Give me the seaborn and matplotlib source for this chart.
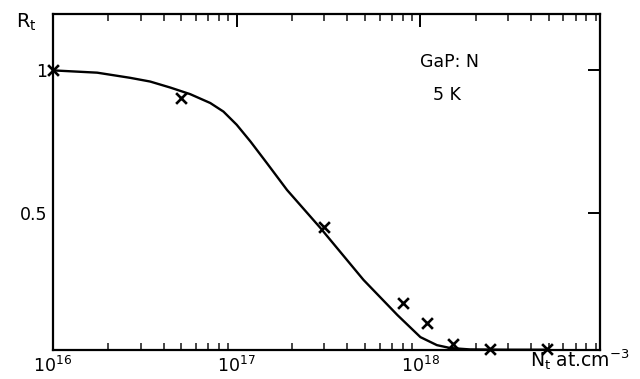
import numpy as np
import pandas as pd
import matplotlib
matplotlib.use("Agg")
import matplotlib.pyplot as plt
import matplotlib.ticker as mticker
import seaborn as sns

# Data
curve_n = [1.0e16, 1.74e16, 2.63e16, 3.38e16, 4.35e16, 5.58e16, 7.18e16,
           8.47e16, 1.0e17, 1.19e17, 1.46e17, 1.88e17, 2.85e17, 4.90e17,
           7.50e17, 1.0e18, 1.23e18, 1.45e18, 1.86e18, 3.0e18, 5.0e18]
curve_r = [0.998, 0.99, 0.972, 0.959, 0.938, 0.915, 0.884,
           0.854, 0.808, 0.749, 0.674, 0.580, 0.448, 0.266,
           0.143, 0.066, 0.038, 0.028, 0.023, 0.022, 0.022]
meas_n = [1.0e16, 5.0e16, 3.0e17, 8.0e17, 1.08e18, 1.5e18, 2.4e18, 4.9e18]
meas_r = [1.0, 0.90, 0.45, 0.185, 0.115, 0.042, 0.025, 0.025]
ytick_vals = [0.5, 1.0]
ytick_labels = ["0.5", "1"]

sns.set_style("white")
plt.rcParams['font.family'] = ['DejaVu Sans']
plt.rcParams['text.color'] = 'black'

fig = plt.figure(figsize=(6.4, 3.79), dpi=100)
ax = fig.add_axes([53/640, 1-350/379, (600-53)/640, (350-14)/379])

curve = pd.DataFrame({"N": curve_n, "R": curve_r})
meas = pd.DataFrame({"N": meas_n, "R": meas_r})

sns.lineplot(data=curve, x="N", y="R", ax=ax, color="black", linewidth=1.7)
sns.scatterplot(data=meas, x="N", y="R", ax=ax, marker="x", color="black",
                s=60, linewidth=1.9, clip_on=False, zorder=5)

ax.set_xscale("log")
ax.set_xlim(1e16, 9.5e18)
ax.set_ylim(0.021, 1.195)

for sp in ax.spines.values():
    sp.set_linewidth(1.6)
    sp.set_color("black")

ax.xaxis.set_major_locator(mticker.LogLocator(base=10, numticks=10))
ax.xaxis.set_minor_locator(mticker.LogLocator(base=10, subs=np.arange(2, 10), numticks=20))
ax.xaxis.set_major_formatter(mticker.LogFormatterMathtext())
ax.xaxis.set_minor_formatter(mticker.NullFormatter())
ax.set_yticks(ytick_vals)
ax.set_yticklabels(ytick_labels)

ax.tick_params(axis="both", which="major", direction="in", length=9, width=1.4,
               top=True, right=True, labelsize=12.5, colors="black", pad=4)
ax.tick_params(axis="x", which="minor", direction="in", length=5, width=1.2,
               top=True, bottom=True)
ax.set_xlabel("")
ax.set_ylabel("")

fig.text(16/640, 1-22/379, r"R$_\mathregular{t}$", fontsize=14, ha="left", va="center",
         color="black")
fig.text(580/640, 1-360/379, r"N$_\mathregular{t}$ at.cm$^{-3}$", fontsize=13.5,
         ha="center", va="center", color="black")
fig.text(450/640, 1-62/379, "GaP: N", fontsize=12.5, ha="center", va="center",
         color="black")
fig.text(447/640, 1-95/379, "5 K", fontsize=12.5, ha="center", va="center",
         color="black")

fig.savefig("out.png", dpi=100)
